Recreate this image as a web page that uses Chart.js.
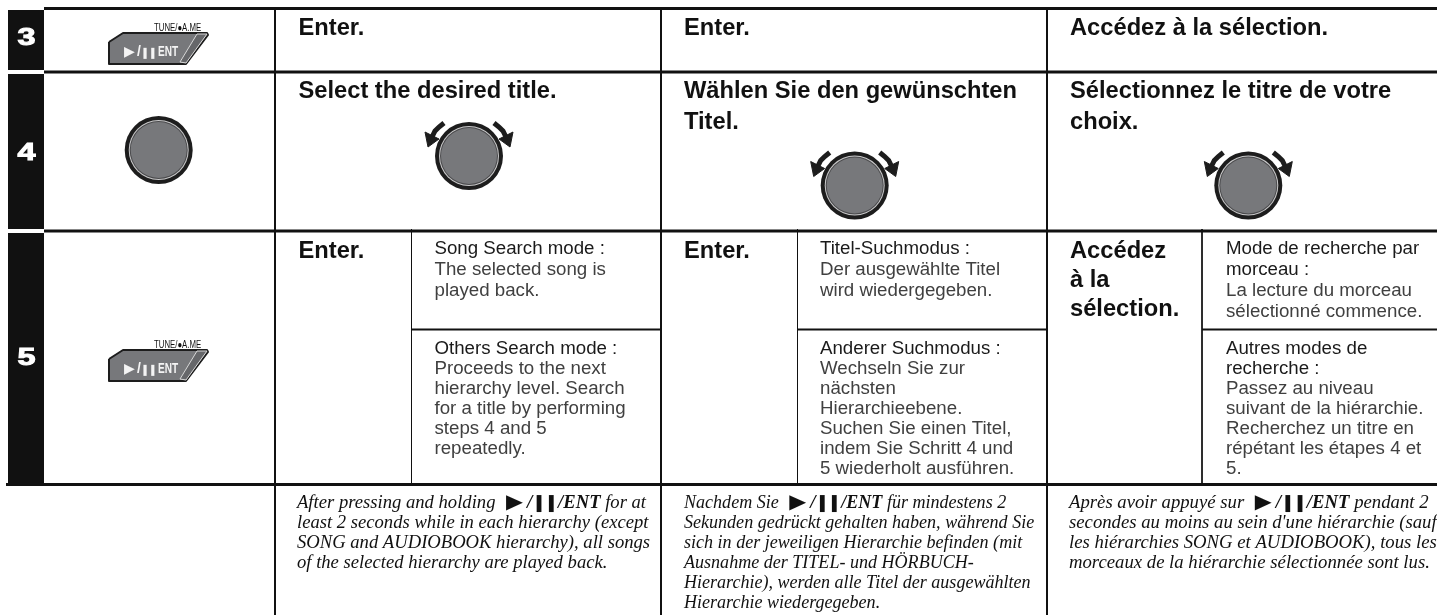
<!DOCTYPE html>
<html>
<head>
<meta charset="utf-8">
<style>
  html, body { margin: 0; padding: 0; background: #fff; }
  canvas { display: block; }
</style>
<script src="https://cdn.jsdelivr.net/npm/chart.js@4"></script>
</head>
<body>
<canvas id="manual" width="1437" height="615"></canvas>
<script>
// Table rules, in scale units
const mainColumns = [275, 661, 1047];
const subColumns = [411.5, 797.5, 1202];
const rowLines = [8.5, 72, 231];
const bottomLine = 484.5;
const splitLine = 329.5;
const stepBands = [[10, 70], [74, 229], [233, 484]];

// Step numbers
const stepLabels = ['3', '4', '5'];
const stepBaselines = [45, 160, 365];

// Text per language column: English, German, French
const enterLabels = ['Enter.', 'Enter.', 'Accédez à la sélection.'];
const selectLabels = [
  ['Select the desired title.'],
  ['Wählen Sie den gewünschten', 'Titel.'],
  ['Sélectionnez le titre de votre', 'choix.']
];
const confirmLabels = [['Enter.'], ['Enter.'], ['Accédez', 'à la', 'sélection.']];
const songHeads = [
  ['Song Search mode :'],
  ['Titel-Suchmodus :'],
  ['Mode de recherche par', 'morceau :']
];
const songBodies = [
  ['The selected song is', 'played back.'],
  ['Der ausgewählte Titel', 'wird wiedergegeben.'],
  ['La lecture du morceau', 'sélectionné commence.']
];
const otherHeads = [
  ['Others Search mode :'],
  ['Anderer Suchmodus :'],
  ['Autres modes de', 'recherche :']
];
const otherBodies = [
  ['Proceeds to the next', 'hierarchy level. Search', 'for a title by performing', 'steps 4 and 5', 'repeatedly.'],
  ['Wechseln Sie zur', 'nächsten', 'Hierarchieebene.', 'Suchen Sie einen Titel,', 'indem Sie Schritt 4 und', '5 wiederholt ausführen.'],
  ['Passez au niveau', 'suivant de la hiérarchie.', 'Recherchez un titre en', 'répétant les étapes 4 et', '5.']
];
const noteLines = [
  ['After pressing and holding @ for at', 'least 2 seconds while in each hierarchy (except', 'SONG and AUDIOBOOK hierarchy), all songs', 'of the selected hierarchy are played back.'],
  ['Nachdem Sie @ für mindestens 2', 'Sekunden gedrückt gehalten haben, während Sie', 'sich in der jeweiligen Hierarchie befinden (mit', 'Ausnahme der TITEL- und HÖRBUCH-', 'Hierarchie), werden alle Titel der ausgewählten', 'Hierarchie wiedergegeben.'],
  ['Après avoir appuyé sur @ pendant 2', 'secondes au moins au sein d\'une hiérarchie (sauf', 'les hiérarchies SONG et AUDIOBOOK), tous les', 'morceaux de la hiérarchie sélectionnée sont lus.']
];
const buttonCaption = 'TUNE/●A.ME';

// Where the column text starts
const titleX = [298.5, 684, 1070];
const bodyX = [434.5, 820, 1226];
const noteX = [297, 684, 1069];
const noteStretch = [0.98, 0.95, 0.985];

// Button and dial artwork
const buttonAnchors = [[109, 33], [109, 350]];
const buttonBody = [[0, 9], [14, 0], [98, 0], [99, 2], [77, 31], [0, 31]];
const buttonFold = [[88, 1], [98, 1], [77, 30], [71, 29]];
const plainDials = [[158.7, 150]];
const turnDials = [[469, 156], [854.7, 185.5], [1248.3, 185.5]];
const arrowShaft = [[-25, -33], [-30, -29], [-34, -25], [-37, -19]];
const arrowHead = [[-44, -24], [-30, -17], [-41, -9]];

const ink = '#111';
const grey = '#77787b';
const datasets = [];

function lineSet(points, width, color) {
  datasets.push({
    data: points.map(p => ({ x: p[0], y: p[1] })),
    borderColor: color || ink,
    borderWidth: width,
    pointRadius: 0,
    tension: 0,
    fill: false
  });
}

function shapeSet(points, fillColor, strokeColor, width) {
  const closed = points.concat([points[0]]);
  datasets.push({
    data: closed.map(p => ({ x: p[0], y: p[1] })),
    borderColor: strokeColor,
    borderWidth: width,
    borderJoinStyle: 'round',
    backgroundColor: fillColor,
    pointRadius: 0,
    tension: 0,
    fill: 'shape'
  });
}

function discSet(center, radius, color) {
  datasets.push({
    data: [{ x: center[0], y: center[1] }],
    showLine: false,
    pointRadius: radius,
    pointBorderWidth: 0,
    pointBackgroundColor: color
  });
}

function drawDial(center) {
  discSet(center, 34, '#1d1d1d');
  discSet(center, 30, '#c9c9ca');
  discSet(center, 29, '#4a4a4c');
  discSet(center, 28, grey);
}

// Rules
stepBands.forEach(b => lineSet([[26, b[0]], [26, b[1]]], 36));
rowLines.forEach(y => lineSet([[44, y], [1437, y]], 3));
lineSet([[6, bottomLine], [1437, bottomLine]], 3);
mainColumns.forEach(x => lineSet([[x, 8], [x, 615]], 2));
subColumns.forEach(x => lineSet([[x, 229], [x, 484]], 1));
mainColumns.forEach((x, i) => lineSet([[subColumns[i], splitLine], [i < 2 ? mainColumns[i + 1] : 1437, splitLine]], 2));

// Buttons
buttonAnchors.forEach(a => {
  const at = pts => pts.map(p => [a[0] + p[0], a[1] + p[1]]);
  shapeSet(at(buttonBody), grey, '#1d1d1d', 2);
  shapeSet(at(buttonFold), '#66676a', '#d8d8d8', 1);
});

// Dials
plainDials.forEach(drawDial);
turnDials.forEach(c => {
  drawDial(c);
  [-1, 1].forEach(side => {
    const at = pts => pts.map(p => [c[0] + side * p[0], c[1] + p[1]]);
    lineSet(at(arrowShaft), 5, '#1d1d1d');
    shapeSet(at(arrowHead), '#1d1d1d', '#1d1d1d', 1);
  });
});

// Text goes on top of the scales through a small plugin
const textPlugin = {
  id: 'manualText',
  afterDatasetsDraw(chart) {
    const ctx = chart.ctx;
    const sx = chart.scales.x;
    const sy = chart.scales.y;

    function put(text, x, y, font, color, stretch) {
      ctx.save();
      ctx.font = font;
      ctx.fillStyle = color;
      ctx.textAlign = 'left';
      ctx.textBaseline = 'alphabetic';
      ctx.translate(sx.getPixelForValue(x), sy.getPixelForValue(y));
      ctx.scale(stretch || 1, 1);
      ctx.fillText(text, 0, 0);
      ctx.restore();
    }

    function block(lines, x, y, gap, font, color, stretch) {
      lines.forEach((t, i) => put(t, x, y + i * gap, font, color, stretch));
    }

    const titleFont = 'bold 23.7px "Liberation Sans"';
    const bodyFont = '18.7px "Liberation Sans"';
    const noteFont = 'italic 19px "Liberation Serif"';
    const noteBold = 'italic bold 19px "Liberation Serif"';

    // Step numbers in the black bands
    stepLabels.forEach((t, i) => {
      ctx.save();
      ctx.font = 'bold 24px "Liberation Sans"';
      ctx.fillStyle = '#fff';
      ctx.strokeStyle = '#fff';
      ctx.lineWidth = 1;
      ctx.textAlign = 'center';
      ctx.translate(sx.getPixelForValue(26.5), sy.getPixelForValue(stepBaselines[i]));
      ctx.scale(1.35, 1);
      ctx.fillText(t, 0, 0);
      ctx.strokeText(t, 0, 0);
      ctx.restore();
    });

    // Button captions
    buttonAnchors.forEach(a => {
      put(buttonCaption, a[0] + 45, a[1] - 2, '10px "Liberation Sans"', ink, 0.78);
      put('▶', a[0] + 15, a[1] + 23, '14px "DejaVu Sans"', '#f4f4f4');
      put('/', a[0] + 28, a[1] + 23, 'bold 14px "Liberation Sans"', '#f4f4f4');
      put('❚❚', a[0] + 32, a[1] + 23, 'bold 11px "DejaVu Sans"', '#f4f4f4', 0.85);
      put('ENT', a[0] + 49, a[1] + 23, 'bold 14px "Liberation Sans"', '#f4f4f4', 0.72);
    });

    titleX.forEach((x, i) => {
      put(enterLabels[i], x, 35, titleFont, ink);
      block(selectLabels[i], x, 98, 31, titleFont, ink);
      block(confirmLabels[i], x, 258, 29, titleFont, ink);
    });

    bodyX.forEach((x, i) => {
      const head = songHeads[i];
      block(head, x, 254, 21, bodyFont, '#1a1a1a');
      block(songBodies[i], x, 254 + head.length * 21, 21, bodyFont, '#404040');
      const other = otherHeads[i];
      block(other, x, 353.5, 20, bodyFont, '#1a1a1a');
      block(otherBodies[i], x, 353.5 + other.length * 20, 20, bodyFont, '#404040');
    });

    noteX.forEach((x, i) => {
      const stretch = noteStretch[i];
      noteLines[i].forEach((line, j) => {
        const y = 508 + j * 20;
        if (line.indexOf('@') < 0) {
          put(line, x, y, noteFont, ink, stretch);
          return;
        }
        const parts = line.split('@');
        ctx.font = noteFont;
        let cursor = x + ctx.measureText(parts[0]).width * stretch + 6;
        put(parts[0], x, y, noteFont, ink, stretch);
        put('▶', cursor, y, '20px "DejaVu Sans"', ink, 1.1);
        put('/', cursor + 21, y, noteBold, ink);
        put('❚❚', cursor + 27, y, 'bold 17px "DejaVu Sans"', ink, 0.85);
        put('/ENT', cursor + 52, y, noteBold, ink, stretch);
        ctx.font = noteBold;
        cursor += 52 + ctx.measureText('/ENT').width * stretch;
        put(parts[1], cursor, y, noteFont, ink, stretch);
      });
    });
  }
};

new Chart(document.getElementById('manual'), {
  type: 'line',
  data: { datasets: datasets.reverse() },
  options: {
    responsive: false,
    animation: false,
    layout: { padding: 0, autoPadding: false },
    plugins: { legend: { display: false }, tooltip: { enabled: false } },
    scales: {
      x: { type: 'linear', display: false, min: 0, max: 1437 },
      y: { type: 'linear', display: false, min: 0, max: 615, reverse: true }
    }
  },
  plugins: [textPlugin]
});
</script>
</body>
</html>
